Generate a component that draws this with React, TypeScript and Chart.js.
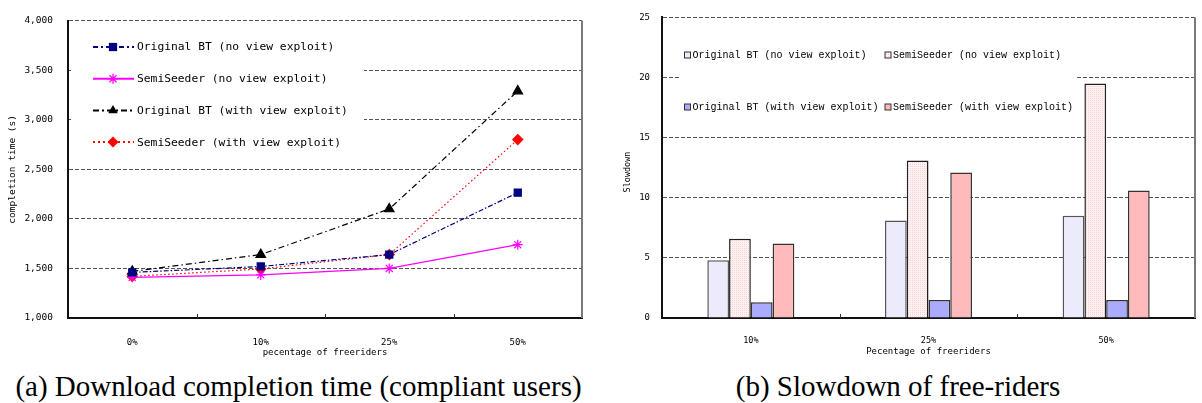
import React, { useEffect, useRef } from 'react';
import { Chart, registerables } from 'chart.js';

Chart.register(...registerables);

const seriesNames = [
  'Original BT (no view exploit)',
  'SemiSeeder (no view exploit)',
  'Original BT (with view exploit)',
  'SemiSeeder (with view exploit)',
];

// (a) download completion time of compliant users, in seconds
const freeriderShares = ['0%', '10%', '25%', '50%'];
const originalNoExploit = [1460, 1520, 1640, 2265];
const semiSeederNoExploit = [1410, 1435, 1500, 1740];
const originalWithExploit = [1470, 1640, 2100, 3290];
const semiSeederWithExploit = [1420, 1495, 1640, 2800];
const completionTicks = [1000, 1500, 2000, 2500, 3000, 3500, 4000];

// (b) slowdown of free-riders
const slowdownShares = ['10%', '25%', '50%'];
const slowOriginalNoExploit = [4.8, 8.1, 8.5];
const slowSemiSeederNoExploit = [6.6, 13.1, 19.5];
const slowOriginalWithExploit = [1.3, 1.5, 1.5];
const slowSemiSeederWithExploit = [6.2, 12.1, 10.6];
const slowdownTicks = [0, 5, 10, 15, 20, 25];

const MONO = '"DejaVu Sans Mono", "Liberation Mono", monospace';
const LEGEND_MONO = '"Liberation Mono", "DejaVu Sans Mono", monospace';
const SERIF = '"Liberation Serif", "Times New Roman", serif';

function drawMarker(ctx: CanvasRenderingContext2D, style: string, x: number, y: number, r: number, color: string) {
  ctx.save();
  ctx.setLineDash([]);
  ctx.fillStyle = color;
  ctx.strokeStyle = color;
  ctx.lineWidth = 1.3;
  ctx.beginPath();
  if (style === 'rect') {
    const s = r * 0.75;
    ctx.rect(x - s, y - s, 2 * s, 2 * s);
    ctx.fill();
  } else if (style === 'triangle') {
    ctx.moveTo(x, y - r);
    ctx.lineTo(x + r * 0.87, y + r * 0.5);
    ctx.lineTo(x - r * 0.87, y + r * 0.5);
    ctx.closePath();
    ctx.fill();
  } else if (style === 'rectRot') {
    ctx.moveTo(x, y - r);
    ctx.lineTo(x + r, y);
    ctx.lineTo(x, y + r);
    ctx.lineTo(x - r, y);
    ctx.closePath();
    ctx.fill();
  } else {
    for (let k = 0; k < 4; k++) {
      const a = (k * Math.PI) / 4;
      ctx.moveTo(x - Math.cos(a) * r, y - Math.sin(a) * r);
      ctx.lineTo(x + Math.cos(a) * r, y + Math.sin(a) * r);
    }
    ctx.stroke();
  }
  ctx.restore();
}

// right frame edge and the short category separators on the x axis
const framePlugin = {
  id: 'frame',
  afterDraw(chart: any) {
    const { ctx, chartArea } = chart;
    const xScale = chart.scales.x;
    ctx.save();
    ctx.strokeStyle = '#7a7a7a';
    ctx.lineWidth = 2;
    ctx.beginPath();
    ctx.moveTo(chartArea.right, chartArea.top);
    ctx.lineTo(chartArea.right, chartArea.bottom);
    ctx.stroke();
    ctx.strokeStyle = '#333';
    ctx.lineWidth = 1;
    const n = chart.data.labels.length;
    for (let i = 1; i < n; i++) {
      const px = Math.round(xScale.getPixelForValue(i - 0.5)) + 0.5;
      ctx.beginPath();
      ctx.moveTo(px, chartArea.bottom);
      ctx.lineTo(px, chartArea.bottom - 4);
      ctx.stroke();
    }
    ctx.restore();
  },
};

const lineLegendPlugin = {
  id: 'lineLegend',
  afterDraw(chart: any) {
    const { ctx } = chart;
    ctx.save();
    ctx.fillStyle = '#fff';
    ctx.fillRect(71, 27, 293, 130);
    chart.data.datasets.forEach((ds: any, i: number) => {
      const y = 47 + i * 31.7;
      ctx.strokeStyle = ds.borderColor;
      ctx.lineWidth = 2;
      ctx.setLineDash(ds.legendDash || []);
      ctx.beginPath();
      ctx.moveTo(93, y);
      ctx.lineTo(134, y);
      ctx.stroke();
      ctx.setLineDash([]);
      drawMarker(ctx, ds.pointStyle, 113, y, ds.pointStyle === 'star' ? 5 : 5.5, ds.borderColor);
      ctx.fillStyle = '#000';
      ctx.font = `11.3px ${MONO}`;
      ctx.textAlign = 'left';
      ctx.textBaseline = 'middle';
      ctx.fillText(ds.label, 137, y + 0.5);
    });
    ctx.restore();
  },
};

const barLegendPlugin = {
  id: 'barLegend',
  afterDraw(chart: any) {
    const { ctx } = chart;
    ctx.save();
    ctx.fillStyle = '#fff';
    ctx.fillRect(80, 32, 396, 94);
    const cols = [87.5, 288];
    const rows = [55, 107];
    chart.data.datasets.forEach((ds: any, i: number) => {
      const cx = cols[i % 2];
      const cy = rows[Math.floor(i / 2)];
      ctx.fillStyle = ds.backgroundColor;
      ctx.fillRect(cx - 3, cy - 3, 6, 6);
      ctx.strokeStyle = '#333';
      ctx.lineWidth = 1;
      ctx.strokeRect(cx - 3, cy - 3, 6, 6);
      ctx.fillStyle = '#000';
      ctx.font = `10px ${LEGEND_MONO}`;
      ctx.textAlign = 'left';
      ctx.textBaseline = 'middle';
      ctx.fillText(ds.label, cx + 5, cy + 0.5);
    });
    // vertical axis title, sitting a little below the plot's middle
    ctx.save();
    ctx.translate(28, 172);
    ctx.rotate(-Math.PI / 2);
    ctx.fillStyle = '#000';
    ctx.font = `8.5px ${MONO}`;
    ctx.textAlign = 'center';
    ctx.textBaseline = 'middle';
    ctx.fillText('Slowdown', 0, 0);
    ctx.restore();
    ctx.restore();
  },
};

// fine pink stipple used for the SemiSeeder (no view exploit) bars
function dottedPink(): CanvasPattern | string {
  const c = document.createElement('canvas');
  c.width = 2;
  c.height = 2;
  const g = c.getContext('2d');
  if (!g) return '#fbe0e0';
  g.fillStyle = '#fff1f1';
  g.fillRect(0, 0, 2, 2);
  g.fillStyle = '#f7d4d4';
  g.fillRect(0, 0, 1, 1);
  return g.createPattern(c, 'repeat') || '#fbe0e0';
}

function CompletionChart() {
  const ref = useRef<HTMLCanvasElement>(null);
  useEffect(() => {
    const lineStyles = [
      { data: originalNoExploit, color: '#000080', dash: [5, 2, 1.5, 2], legendDash: [5, 3, 2, 3], point: 'rect', radius: 5 },
      { data: semiSeederNoExploit, color: '#ff00ff', dash: [], legendDash: [], point: 'star', radius: 5 },
      { data: originalWithExploit, color: '#000000', dash: [6, 3, 1.5, 3], legendDash: [6, 3, 2, 3], point: 'triangle', radius: 5.5 },
      { data: semiSeederWithExploit, color: '#ff0000', dash: [1.5, 2.5], legendDash: [2, 3], point: 'rectRot', radius: 5 },
    ];
    const chart = new Chart(ref.current as HTMLCanvasElement, {
      type: 'line',
      data: {
        labels: freeriderShares,
        datasets: lineStyles.map((s, i) => ({
          label: seriesNames[i],
          data: s.data,
          borderColor: s.color,
          backgroundColor: s.color,
          borderWidth: 1.2,
          borderDash: s.dash,
          legendDash: s.legendDash,
          pointStyle: s.point,
          pointRadius: s.radius,
          pointBackgroundColor: s.color,
          pointBorderColor: s.color,
          pointBorderWidth: 1.2,
          tension: 0,
          fill: false,
        })) as any,
      },
      options: {
        animation: false,
        responsive: false,
        maintainAspectRatio: false,
        layout: { padding: { top: 9, right: 18, left: 0, bottom: 0 } },
        plugins: { legend: { display: false }, tooltip: { enabled: false } },
        scales: {
          x: {
            offset: true,
            grid: { display: false },
            border: { display: true, color: '#111', width: 2 },
            ticks: { color: '#000', font: { family: MONO, size: 9 }, padding: 11.5, maxRotation: 0 },
            title: { display: true, text: 'pecentage of freeriders', color: '#000', font: { family: MONO, size: 9 }, padding: { top: 0, bottom: 6.6 } },
            afterFit: (s: any) => { s.height = 47; },
          },
          y: {
            min: completionTicks[0],
            max: completionTicks[completionTicks.length - 1],
            afterBuildTicks: (s: any) => { s.ticks = completionTicks.map((value) => ({ value })); },
            grid: { color: '#555', lineWidth: 1, drawTicks: false },
            border: { display: true, color: '#111', width: 2, dash: [4, 2] },
            ticks: { color: '#000', font: { family: MONO, size: 9.5 }, padding: 15, callback: (v: any) => Number(v).toLocaleString('en-US') },
            title: { display: true, text: 'completion time (s)', color: '#000', font: { family: MONO, size: 9.5 }, padding: { top: 7, bottom: 0 } },
            afterFit: (s: any) => { s.width = 68; },
          },
        },
      } as any,
      plugins: [framePlugin, lineLegendPlugin],
    });
    return () => chart.destroy();
  }, []);
  return <canvas ref={ref} width={600} height={365} style={{ position: 'absolute', left: 0, top: 0, width: 600, height: 365 }} />;
}

function SlowdownChart() {
  const ref = useRef<HTMLCanvasElement>(null);
  useEffect(() => {
    const barStyles = [
      { data: slowOriginalNoExploit, fill: '#ebebfb' as any, edge: '#555' },
      { data: slowSemiSeederNoExploit, fill: dottedPink() as any, edge: '#222' },
      { data: slowOriginalWithExploit, fill: '#aaaaff' as any, edge: '#333' },
      { data: slowSemiSeederWithExploit, fill: '#ffbbbb' as any, edge: '#333' },
    ];
    const chart = new Chart(ref.current as HTMLCanvasElement, {
      type: 'bar',
      data: {
        labels: slowdownShares,
        datasets: barStyles.map((s, i) => ({
          label: seriesNames[i],
          data: s.data,
          backgroundColor: s.fill,
          borderColor: s.edge,
          borderWidth: 1.5,
          borderSkipped: 'bottom',
          categoryPercentage: 0.49,
          barPercentage: 1,
        })),
      },
      options: {
        animation: false,
        responsive: false,
        maintainAspectRatio: false,
        layout: { padding: { top: 8, right: 7, left: 0, bottom: 0 } },
        plugins: { legend: { display: false }, tooltip: { enabled: false } },
        scales: {
          x: {
            grid: { display: false },
            border: { display: true, color: '#111', width: 2 },
            ticks: { color: '#000', font: { family: MONO, size: 8.5 }, padding: 10, maxRotation: 0 },
            title: { display: true, text: 'Pecentage of freeriders', color: '#000', font: { family: MONO, size: 9 }, padding: { top: 0, bottom: 7.5 } },
            afterFit: (s: any) => { s.height = 47; },
          },
          y: {
            min: slowdownTicks[0],
            max: slowdownTicks[slowdownTicks.length - 1],
            afterBuildTicks: (s: any) => { s.ticks = slowdownTicks.map((value) => ({ value })); },
            grid: { color: '#555', lineWidth: 1, drawTicks: false },
            border: { display: true, color: '#111', width: 2, dash: [4, 2] },
            ticks: { color: '#000', font: { family: MONO, size: 9 }, padding: 12 },
            afterFit: (s: any) => { s.width = 62; },
          },
        },
      } as any,
      plugins: [framePlugin, barLegendPlugin],
    });
    return () => chart.destroy();
  }, []);
  return <canvas ref={ref} width={602} height={365} style={{ position: 'absolute', left: 600, top: 0, width: 602, height: 365 }} />;
}

const captionStyle: React.CSSProperties = {
  position: 'absolute',
  top: 372,
  textAlign: 'center',
  fontFamily: SERIF,
  fontSize: 29,
  lineHeight: '29px',
  whiteSpace: 'nowrap',
  color: '#000',
};

export default function App() {
  return (
    <div style={{ position: 'absolute', left: 0, top: 0, width: 1202, height: 403, background: '#fff', overflow: 'hidden' }}>
      <CompletionChart />
      <SlowdownChart />
      <div style={{ ...captionStyle, left: 0, width: 597 }}>(a) Download completion time (compliant users)</div>
      <div style={{ ...captionStyle, left: 600, width: 596 }}>(b) Slowdown of free-riders</div>
    </div>
  );
}
